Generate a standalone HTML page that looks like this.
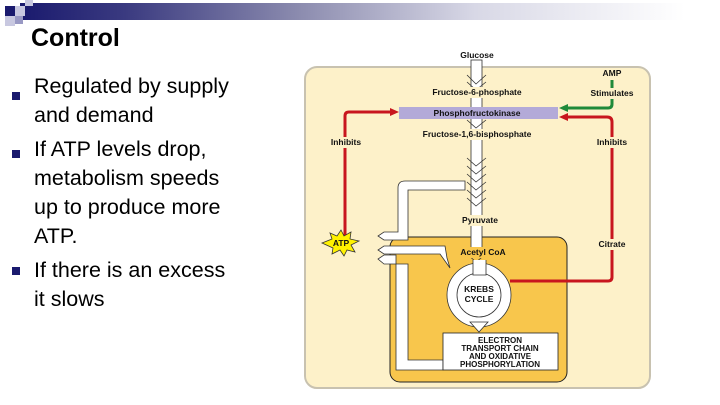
<!DOCTYPE html>
<html><head><style>
body{margin:0;width:720px;height:405px;background:#fff;position:relative;overflow:hidden;font-family:"Liberation Sans",sans-serif}
.bar{position:absolute;left:20px;top:3px;width:700px;height:17px;background:linear-gradient(90deg,#1a1a6e 0%,#3a3a80 15%,#8c8caf 40%,#d8d8e6 65%,#fff 95%)}
.sq{position:absolute;width:10px;height:10px}
h1{position:absolute;left:31px;top:24px;margin:0;font-size:25px;font-weight:bold;color:#000}
.b{position:absolute;left:34px;font-size:21.5px;line-height:29px;color:#000}
.bl{position:absolute;left:12px;width:8px;height:8px;background:#1a1a6e}
</style></head><body>
<div class="bar"></div>
<div class="sq" style="left:5px;top:6px;background:#1a1a6e"></div>
<div class="sq" style="left:15px;top:6px;background:#c8c8e0"></div>
<div class="sq" style="left:5px;top:16px;background:#c8c8e0"></div>
<div class="sq" style="left:15px;top:16px;background:#9999c4;width:8px;height:8px"></div>
<div class="sq" style="left:25px;top:0px;background:#c8c8e0;width:8px;height:6px"></div>
<h1>Control</h1>
<div class="bl" style="top:92px"></div><div class="bl" style="top:150px"></div><div class="bl" style="top:267px"></div>
<div class="b" style="top:72px">Regulated by supply<br>and demand</div>
<div class="b" style="top:135px">If ATP levels drop,<br>metabolism speeds<br>up to produce more<br>ATP.</div>
<div class="b" style="top:256px">If there is an excess<br>it slows</div>
<svg style="position:absolute;left:0;top:0" width="720" height="405" font-family="Liberation Sans" font-weight="bold" font-size="8.5">
<rect x="305" y="67" width="345" height="321" rx="12" fill="#fdf1c9" stroke="#c8c2b0" stroke-width="2"/>
<rect x="390" y="237" width="177" height="145" rx="10" fill="#f8c64c" stroke="#222" stroke-width="1"/>
<rect x="471" y="60" width="11" height="195" fill="#fff" stroke="#333" stroke-width="0.8"/>
<g fill="none" stroke="#333" stroke-width="0.8">
<path d="M467 75 L476 84 L486 75 M467 82 L476 90 L486 82"/>
<path d="M467 120 L476 128 L486 120"/>
<path d="M467 158 L476 166 L486 158 M467 166 L476 174 L486 166 M467 174 L476 182 L486 174 M467 182 L476 190 L486 182 M467 190 L476 198 L486 190 M467 198 L476 206 L486 198"/>
<path d="M467 254 L476 262 L486 254"/>
</g>
<rect x="399" y="107" width="159" height="12" fill="#b3aad8"/>
<path d="M345 238 V116 Q345 112 349 112 H392" fill="none" stroke="#c8161e" stroke-width="3"/>
<path d="M399 112 L390 108 L390 116Z" fill="#c8161e"/>
<path d="M510 281 H608 Q612 281 612 277 V122 Q612 117 607 117 H566" fill="none" stroke="#c8161e" stroke-width="3"/>
<path d="M559 117 L568 113 L568 121Z" fill="#c8161e"/>
<path d="M612 80 V104 Q612 108 608 108 H566" fill="none" stroke="#1f8a3a" stroke-width="3"/>
<path d="M559 108 L568 104 L568 112Z" fill="#1f8a3a"/>
<g fill="#fdf1c9">
<rect x="418" y="87" width="118" height="11"/>
<rect x="418" y="129" width="118" height="11"/>
<rect x="455" y="215" width="50" height="11"/>
<rect x="326" y="137" width="40" height="11"/>
<rect x="590" y="137" width="44" height="11"/>
<rect x="588" y="88" width="50" height="11"/>
<rect x="592" y="239" width="40" height="11"/>
</g>
<circle cx="479" cy="295" r="32" fill="#fff" stroke="#333" stroke-width="0.8"/>
<circle cx="479" cy="295" r="22" fill="#fff" stroke="#333" stroke-width="0.8"/>
<path d="M473 260 V275 H486 V260" fill="#fff" stroke="#333" stroke-width="0.8"/>
<path d="M470 322 H488 L479 332Z" fill="#fff" stroke="#333" stroke-width="0.8"/>
<path d="M465 181 H405 Q398 181 398 188 V232 H384 L378 236 L384 240 H408 V190 H465Z" fill="#fff" stroke="#333" stroke-width="0.8"/>
<path d="M447 258 L445 246 H384 L378 250 L384 254 H440 L450 268Z" fill="#fff" stroke="#333" stroke-width="0.8"/>
<path d="M443 360 H408 V264 H384 L378 259 L384 255 H396 V370 H443Z" fill="#fff" stroke="#333" stroke-width="0.8"/>
<rect x="443" y="333" width="115" height="37" fill="#fff" stroke="#222" stroke-width="0.8"/>
<g text-anchor="middle" fill="#111">
<text x="477" y="58">Glucose</text>
<text x="477" y="95">Fructose-6-phosphate</text>
<text x="477" y="116">Phosphofructokinase</text>
<text x="477" y="137">Fructose-1,6-bisphosphate</text>
<text x="480" y="223">Pyruvate</text>
<rect x="455" y="247" width="58" height="11" fill="#f8c64c"/>
<text x="483" y="255">Acetyl CoA</text>
<text x="612" y="76">AMP</text>
<text x="612" y="96">Stimulates</text>
<text x="346" y="145">Inhibits</text>
<text x="612" y="145">Inhibits</text>
<text x="612" y="247">Citrate</text>
<text x="479" y="292">KREBS</text>
<text x="479" y="302">CYCLE</text>
</g>
<g text-anchor="middle" fill="#111" font-size="8">
<text x="500" y="343">ELECTRON</text>
<text x="500" y="351">TRANSPORT CHAIN</text>
<text x="500" y="359">AND OXIDATIVE</text>
<text x="500" y="367">PHOSPHORYLATION</text>
</g>
<path d="M322 243 L332 239 L330 233 L337 236 L341 230 L344 236 L351 232 L350 239 L359 241 L351 245 L355 252 L347 250 L344 256 L340 250 L332 254 L333 248 Z" fill="#fff200" stroke="#333" stroke-width="0.8"/>
<text x="341" y="246" text-anchor="middle" fill="#111">ATP</text>
</svg>
</body></html>
